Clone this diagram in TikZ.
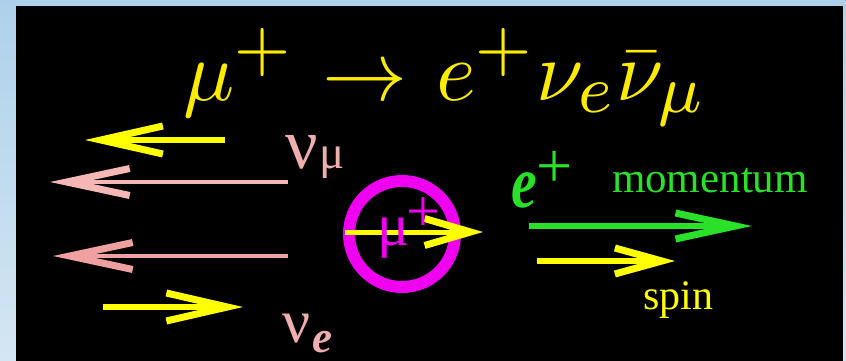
\documentclass[tikz,border=0pt]{standalone}
\usepackage[no-math]{fontspec}
\newfontfamily\tms{Liberation Serif}
\DeclareMathSizes{10}{10}{8}{6}
\usetikzlibrary{arrows.meta}
\definecolor{bgtop}{RGB}{174,209,235}
\definecolor{bgbot}{RGB}{212,230,243}
\definecolor{ttl}{RGB}{250,235,0}
\definecolor{ylw}{RGB}{255,255,0}
\definecolor{pinkA}{RGB}{245,182,182}
\definecolor{pinkB}{RGB}{240,160,160}
\definecolor{lbl}{RGB}{240,175,175}
\definecolor{grn}{RGB}{40,225,40}
\definecolor{mag}{RGB}{240,0,240}
\begin{document}
\begin{tikzpicture}[x=1pt,y=-1pt,
  txt/.style={inner sep=0pt,outer sep=0pt,anchor=base west},
  arr/.style n args={3}{line width=#1,-{Straight Barb[length=#2pt,width=#3pt,line width=7pt,sharp]}}]
\useasboundingbox (0,0) rectangle (846,361);
\shade[top color=bgtop,bottom color=bgbot] (0,0) rectangle (846,361);
\fill[black] (16,6) rectangle (843,361);
% title
\node[txt,text=ttl] (title) at (183,100) {\scalebox{8.5}{$\mu^+\mkern1mu\rightarrow\mkern1mu e^+\nu_e\bar\nu_\mu$}};
% coordinates
\coordinate (ytS) at (225,140); \coordinate (ytE) at (85,140);
\coordinate (p1S) at (288,182); \coordinate (p1E) at (50,182);
\coordinate (p2S) at (288,256); \coordinate (p2E) at (53,256);
\coordinate (ybS) at (103,307); \coordinate (ybE) at (243,307);
\coordinate (gS) at (529,226); \coordinate (gE) at (752,226);
\coordinate (sS) at (537,261); \coordinate (sE) at (675,261);
\coordinate (mS) at (345,232); \coordinate (mE) at (483,232);
\coordinate (muc) at (402,234);
% arrows
\draw[ylw,arr={6pt}{62}{28}] (ytS) -- (ytE);
\draw[pinkA,arr={4pt}{63}{27}] (p1S) -- (p1E);
\draw[pinkB,arr={4pt}{63}{27}] (p2S) -- (p2E);
\draw[ylw,arr={6pt}{61}{28}] (ybS) -- (ybE);
\draw[grn,arr={6pt}{60}{26}] (gS) -- (gE);
\draw[ylw,arr={6pt}{47}{26}] (sS) -- (sE);
% muon
\draw[mag,line width=12pt] (muc) circle[radius=53];
\draw[ylw,arr={5pt}{46}{27}] (mS) -- (mE);
\node[txt,text=mag] (mu) at (377,245) {\tms\fontsize{60}{60}\selectfont μ\kern-3pt\raisebox{14pt}{+}};
% labels
\node[txt,text=lbl] (numu) at (285,168) {\tms\fontsize{72}{72}\selectfont ν\kern2pt{\fontsize{47}{47}\selectfont μ}};
\node[txt,text=lbl] (nue) at (282,342) {\tms\fontsize{62}{62}\selectfont ν\kern2pt\raisebox{-10pt}{\fontsize{45}{45}\selectfont\bfseries\itshape e}};
\node[txt,text=grn] (ep) at (511,207) {\tms\fontsize{74}{74}\selectfont\bfseries\itshape\scalebox{0.78}[1]{e}\raisebox{20pt}{\mdseries\upshape\fontsize{64}{64}\selectfont +}};
\node[txt,text=grn] (mom) at (612,192) {\tms\fontsize{43}{43}\selectfont momentum};
\node[txt,text=ylw] (spin) at (643,309) {\tms\fontsize{42}{42}\selectfont spin};
\end{tikzpicture}
\end{document}
